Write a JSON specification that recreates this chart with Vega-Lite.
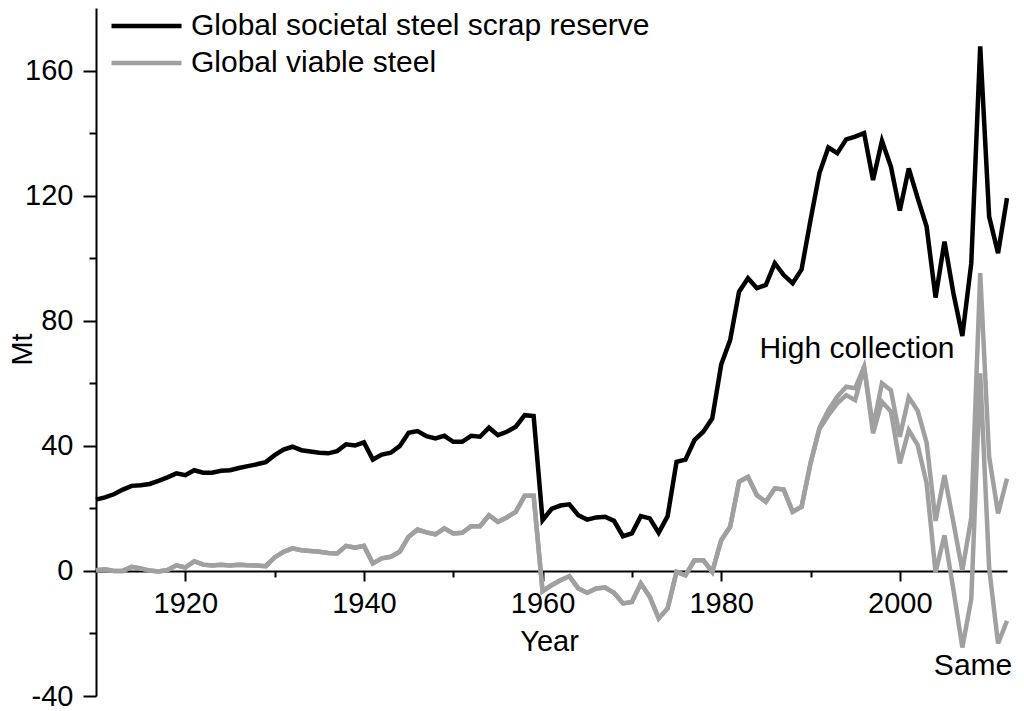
{
  "$schema": "https://vega.github.io/schema/vega-lite/v6.json",
  "width": 911,
  "height": 688,
  "autosize": {"type": "none"},
  "padding": {"left": 96, "top": 8, "right": 17, "bottom": 15},
  "background": "white",
  "config": {
    "view": {"stroke": null},
    "font": "Liberation Sans",
    "legend": {
      "orient": "none",
      "legendX": 13,
      "legendY": -2,
      "symbolType": "M-1,0H3",
      "symbolSize": 1225,
      "symbolStrokeWidth": 4.5,
      "labelFontSize": 30,
      "labelFont": "Liberation Sans",
      "labelColor": "black",
      "labelOffset": 42,
      "labelLimit": 800,
      "rowPadding": 2,
      "padding": 0
    }
  },
  "datasets": {
    "series": [
      {"year": 1910, "reserve": 22.8, "high": 0.2, "same": 0.2},
      {"year": 1911, "reserve": 23.5, "high": 0.5, "same": 0.5},
      {"year": 1912, "reserve": 24.5, "high": 0.0, "same": 0.0},
      {"year": 1913, "reserve": 26.0, "high": 0.0, "same": 0.0},
      {"year": 1914, "reserve": 27.2, "high": 1.3, "same": 1.3},
      {"year": 1915, "reserve": 27.4, "high": 0.8, "same": 0.8},
      {"year": 1916, "reserve": 27.8, "high": 0.1, "same": 0.1},
      {"year": 1917, "reserve": 28.8, "high": -0.2, "same": -0.2},
      {"year": 1918, "reserve": 29.9, "high": 0.3, "same": 0.3},
      {"year": 1919, "reserve": 31.2, "high": 1.8, "same": 1.8},
      {"year": 1920, "reserve": 30.6, "high": 1.1, "same": 1.1},
      {"year": 1921, "reserve": 32.2, "high": 3.1, "same": 3.1},
      {"year": 1922, "reserve": 31.4, "high": 2.0, "same": 2.0},
      {"year": 1923, "reserve": 31.4, "high": 1.7, "same": 1.7},
      {"year": 1924, "reserve": 32.0, "high": 2.0, "same": 2.0},
      {"year": 1925, "reserve": 32.2, "high": 1.7, "same": 1.7},
      {"year": 1926, "reserve": 32.9, "high": 2.0, "same": 2.0},
      {"year": 1927, "reserve": 33.5, "high": 1.8, "same": 1.8},
      {"year": 1928, "reserve": 34.1, "high": 1.7, "same": 1.7},
      {"year": 1929, "reserve": 34.8, "high": 1.5, "same": 1.5},
      {"year": 1930, "reserve": 37.0, "high": 4.3, "same": 4.3},
      {"year": 1931, "reserve": 38.8, "high": 6.1, "same": 6.1},
      {"year": 1932, "reserve": 39.7, "high": 7.2, "same": 7.2},
      {"year": 1933, "reserve": 38.6, "high": 6.6, "same": 6.6},
      {"year": 1934, "reserve": 38.2, "high": 6.4, "same": 6.4},
      {"year": 1935, "reserve": 37.8, "high": 6.1, "same": 6.1},
      {"year": 1936, "reserve": 37.6, "high": 5.7, "same": 5.7},
      {"year": 1937, "reserve": 38.3, "high": 5.6, "same": 5.6},
      {"year": 1938, "reserve": 40.5, "high": 8.0, "same": 8.0},
      {"year": 1939, "reserve": 40.1, "high": 7.4, "same": 7.4},
      {"year": 1940, "reserve": 41.1, "high": 8.0, "same": 8.0},
      {"year": 1941, "reserve": 35.6, "high": 2.4, "same": 2.4},
      {"year": 1942, "reserve": 37.2, "high": 4.0, "same": 4.0},
      {"year": 1943, "reserve": 37.8, "high": 4.5, "same": 4.5},
      {"year": 1944, "reserve": 39.9, "high": 6.1, "same": 6.1},
      {"year": 1945, "reserve": 44.2, "high": 10.9, "same": 10.9},
      {"year": 1946, "reserve": 44.7, "high": 13.2, "same": 13.2},
      {"year": 1947, "reserve": 43.1, "high": 12.3, "same": 12.3},
      {"year": 1948, "reserve": 42.4, "high": 11.7, "same": 11.7},
      {"year": 1949, "reserve": 43.2, "high": 13.6, "same": 13.6},
      {"year": 1950, "reserve": 41.3, "high": 12.0, "same": 12.0},
      {"year": 1951, "reserve": 41.3, "high": 12.2, "same": 12.2},
      {"year": 1952, "reserve": 43.2, "high": 14.3, "same": 14.3},
      {"year": 1953, "reserve": 42.9, "high": 14.3, "same": 14.3},
      {"year": 1954, "reserve": 45.8, "high": 17.8, "same": 17.8},
      {"year": 1955, "reserve": 43.4, "high": 15.7, "same": 15.7},
      {"year": 1956, "reserve": 44.5, "high": 17.1, "same": 17.1},
      {"year": 1957, "reserve": 46.1, "high": 18.9, "same": 18.9},
      {"year": 1958, "reserve": 49.8, "high": 24.0, "same": 24.0},
      {"year": 1959, "reserve": 49.5, "high": 24.0, "same": 24.0},
      {"year": 1960, "reserve": 16.2, "high": -6.5, "same": -6.5},
      {"year": 1961, "reserve": 19.8, "high": -4.6, "same": -4.6},
      {"year": 1962, "reserve": 20.9, "high": -3.0, "same": -3.0},
      {"year": 1963, "reserve": 21.3, "high": -1.7, "same": -1.7},
      {"year": 1964, "reserve": 17.8, "high": -5.6, "same": -5.6},
      {"year": 1965, "reserve": 16.4, "high": -7.0, "same": -7.0},
      {"year": 1966, "reserve": 17.1, "high": -5.6, "same": -5.6},
      {"year": 1967, "reserve": 17.3, "high": -5.3, "same": -5.3},
      {"year": 1968, "reserve": 16.0, "high": -7.0, "same": -7.0},
      {"year": 1969, "reserve": 11.1, "high": -10.4, "same": -10.4},
      {"year": 1970, "reserve": 12.0, "high": -9.9, "same": -9.9},
      {"year": 1971, "reserve": 17.5, "high": -4.0, "same": -4.0},
      {"year": 1972, "reserve": 16.8, "high": -8.3, "same": -8.3},
      {"year": 1973, "reserve": 12.2, "high": -15.2, "same": -15.2},
      {"year": 1974, "reserve": 17.5, "high": -12.0, "same": -12.0},
      {"year": 1975, "reserve": 34.9, "high": -0.3, "same": -0.3},
      {"year": 1976, "reserve": 35.6, "high": -1.4, "same": -1.4},
      {"year": 1977, "reserve": 41.8, "high": 3.4, "same": 3.4},
      {"year": 1978, "reserve": 44.5, "high": 3.4, "same": 3.4},
      {"year": 1979, "reserve": 48.8, "high": -0.3, "same": -0.3},
      {"year": 1980, "reserve": 66.0, "high": 9.8, "same": 9.8},
      {"year": 1981, "reserve": 73.8, "high": 14.1, "same": 14.1},
      {"year": 1982, "reserve": 89.3, "high": 28.5, "same": 28.5},
      {"year": 1983, "reserve": 93.6, "high": 30.1, "same": 30.1},
      {"year": 1984, "reserve": 90.4, "high": 24.2, "same": 24.2},
      {"year": 1985, "reserve": 91.4, "high": 22.1, "same": 22.1},
      {"year": 1986, "reserve": 98.4, "high": 26.4, "same": 26.4},
      {"year": 1987, "reserve": 94.6, "high": 26.0, "same": 26.0},
      {"year": 1988, "reserve": 92.0, "high": 18.9, "same": 18.9},
      {"year": 1989, "reserve": 96.4, "high": 20.5, "same": 20.5},
      {"year": 1990, "reserve": 112.2, "high": 34.4, "same": 34.4},
      {"year": 1991, "reserve": 127.2, "high": 45.8, "same": 45.4},
      {"year": 1992, "reserve": 135.4, "high": 51.4, "same": 49.8},
      {"year": 1993, "reserve": 133.6, "high": 55.7, "same": 53.6},
      {"year": 1994, "reserve": 138.0, "high": 58.9, "same": 56.2},
      {"year": 1995, "reserve": 138.9, "high": 58.4, "same": 54.6},
      {"year": 1996, "reserve": 140.0, "high": 65.3, "same": 65.3},
      {"year": 1997, "reserve": 125.0, "high": 46.0, "same": 44.0},
      {"year": 1998, "reserve": 137.5, "high": 60.0, "same": 54.1},
      {"year": 1999, "reserve": 129.3, "high": 57.8, "same": 51.0},
      {"year": 2000, "reserve": 115.2, "high": 42.9, "same": 34.4},
      {"year": 2001, "reserve": 128.7, "high": 55.5, "same": 45.0},
      {"year": 2002, "reserve": 119.2, "high": 51.2, "same": 40.2},
      {"year": 2003, "reserve": 110.1, "high": 41.0, "same": 28.0},
      {"year": 2004, "reserve": 87.4, "high": 16.0, "same": -0.5},
      {"year": 2005, "reserve": 105.3, "high": 30.6, "same": 11.4},
      {"year": 2006, "reserve": 88.8, "high": 15.5, "same": -6.0},
      {"year": 2007, "reserve": 75.1, "high": 0.1, "same": -24.5},
      {"year": 2008, "reserve": 98.4, "high": 17.0, "same": -9.0},
      {"year": 2009, "reserve": 167.7, "high": 95.2, "same": 63.2},
      {"year": 2010, "reserve": 113.3, "high": 36.5, "same": 1.0},
      {"year": 2011, "reserve": 101.6, "high": 18.4, "same": -23.2},
      {"year": 2012, "reserve": 119.2, "high": 29.5, "same": -16.0}
    ],
    "notes": [
      {"year": 1995.2, "value": 68, "label": "High collection"},
      {"year": 2008.2, "value": -33.4, "label": "Same"}
    ]
  },
  "layer": [
    {
      "data": {"name": "series"},
      "mark": {"type": "line", "strokeWidth": 4.5},
      "encoding": {
        "x": {
          "field": "year",
          "type": "quantitative",
          "title": "Year",
          "scale": {"domain": [1910, 2012], "nice": false, "zero": false},
          "axis": {
            "values": [1920, 1930, 1940, 1950, 1960, 1970, 1980, 1990, 2000, 2010],
            "labelExpr": "datum.value % 20 === 0 ? '' + datum.value : ''",
            "tickSize": {"condition": {"test": "datum.value % 20 === 0", "value": 10}, "value": 6},
            "offset": -125,
            "grid": false,
            "domainColor": "black",
            "domainWidth": 2,
            "tickColor": "black",
            "tickWidth": 2,
            "labelFont": "Liberation Sans",
            "labelFontSize": 29,
            "labelColor": "black",
            "labelPadding": 8,
            "labelFlush": false,
            "labelOverlap": false,
            "titleFont": "Liberation Sans",
            "titleFontSize": 29,
            "titleFontWeight": "normal",
            "titleColor": "black",
            "titleX": 453,
            "titleY": 79,
            "titleBaseline": "alphabetic"
          }
        },
        "y": {
          "field": "reserve",
          "type": "quantitative",
          "title": "Mt",
          "scale": {"domain": [-40, 180], "nice": false, "zero": false},
          "axis": {
            "values": [-40, -20, 0, 20, 40, 60, 80, 100, 120, 140, 160],
            "labelExpr": "datum.value % 40 === 0 ? '' + datum.value : ''",
            "tickSize": {"condition": {"test": "datum.value % 40 === 0", "value": 13}, "value": 7},
            "grid": false,
            "domainColor": "black",
            "domainWidth": 2,
            "tickColor": "black",
            "tickWidth": 2,
            "labelFont": "Liberation Sans",
            "labelFontSize": 29,
            "labelColor": "black",
            "labelPadding": 10,
            "labelFlush": false,
            "labelOverlap": false,
            "titleFont": "Liberation Sans",
            "titleFontSize": 29,
            "titleFontWeight": "normal",
            "titleColor": "black",
            "titleX": -65,
            "titleY": 341,
            "titleBaseline": "alphabetic"
          }
        },
        "color": {
          "datum": "Global societal steel scrap reserve",
          "scale": {
            "domain": ["Global societal steel scrap reserve", "Global viable steel"],
            "range": ["#000000", "#a0a0a0"]
          },
          "legend": {"title": null}
        }
      }
    },
    {
      "data": {"name": "series"},
      "transform": [{"fold": ["high", "same"], "as": ["scenario", "v"]}],
      "mark": {"type": "line", "strokeWidth": 4.5},
      "encoding": {
        "x": {"field": "year", "type": "quantitative", "title": "Year", "scale": {"domain": [1910, 2012], "nice": false, "zero": false}},
        "y": {"field": "v", "type": "quantitative", "title": "Mt", "scale": {"domain": [-40, 180], "nice": false, "zero": false}},
        "detail": {"field": "scenario"},
        "color": {"datum": "Global viable steel"}
      }
    },
    {
      "data": {"name": "notes"},
      "mark": {"type": "text", "font": "Liberation Sans", "fontSize": 30, "color": "black", "align": "center", "baseline": "alphabetic"},
      "encoding": {
        "x": {"field": "year", "type": "quantitative", "title": "Year", "scale": {"domain": [1910, 2012], "nice": false, "zero": false}},
        "y": {"field": "value", "type": "quantitative", "title": "Mt", "scale": {"domain": [-40, 180], "nice": false, "zero": false}},
        "text": {"field": "label"}
      }
    }
  ]
}
